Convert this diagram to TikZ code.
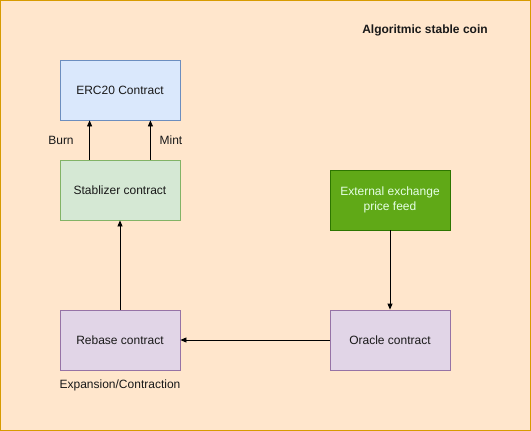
\documentclass[tikz,border=0pt]{standalone}
\usepackage{fontspec}
\setmainfont{Liberation Sans}
\usetikzlibrary{arrows.meta}

\definecolor{bgpeach}{HTML}{FFE6CC}
\definecolor{bgedge}{HTML}{D79B00}
\definecolor{bluefill}{HTML}{DAE8FC}
\definecolor{blueedge}{HTML}{6C8EBF}
\definecolor{greenfill}{HTML}{D5E8D4}
\definecolor{greenedge}{HTML}{82B366}
\definecolor{feedfill}{HTML}{60A917}
\definecolor{feededge}{HTML}{2D7600}
\definecolor{purplefill}{HTML}{E1D5E7}
\definecolor{purpleedge}{HTML}{9673A6}

\begin{document}
\begin{tikzpicture}[x=1pt,y=-1pt,
  font=\fontsize{12}{14.4}\selectfont,
  box/.style={draw,minimum width=120pt,minimum height=60pt,inner sep=0pt,align=center,line width=0.8pt},
  link/.style={draw,line width=0.8pt,-{Triangle[length=6pt,width=5pt]}},
  every node/.style={text=black!90}]

%background
    \draw[fill=bgpeach,draw=bgedge,line width=0.8pt] (0.5,0.5) rectangle (530.5,430.5);
    \useasboundingbox (0,0) rectangle (531,431);

%title
    \node[font=\fontsize{12}{14.4}\selectfont\bfseries] (title) at (425,30) {Algoritmic stable coin};

%contracts
    \node[box,fill=bluefill,draw=blueedge] (erc) at (120,90) {ERC20 Contract};
    \node[box,fill=greenfill,draw=greenedge] (stab) at (120,190) {Stablizer contract};
    \node[box,fill=feedfill,draw=feededge,text=white!90!green] (feed) at (390,200) {External exchange\\price feed};
    \node[box,fill=purplefill,draw=purpleedge] (rebase) at (120,340) {Rebase contract};
    \node[box,fill=purplefill,draw=purpleedge] (oracle) at (390,340) {Oracle contract};

%labels
    \node (burn) at (61,140) {Burn};
    \node (mint) at (171,140) {Mint};
    \node (expand) at (120,385) {Expansion/Contraction};

%arrows
    \draw[link] ([xshift=30pt]stab.north west) -- ([xshift=30pt]erc.south west);
    \draw[link] ([xshift=-30pt]stab.north east) -- ([xshift=-30pt]erc.south east);
    \draw[link] (rebase) -- (stab);
    \draw[link] (feed) -- (oracle);
    \draw[link] (oracle) -- (rebase);

\end{tikzpicture}
\end{document}
